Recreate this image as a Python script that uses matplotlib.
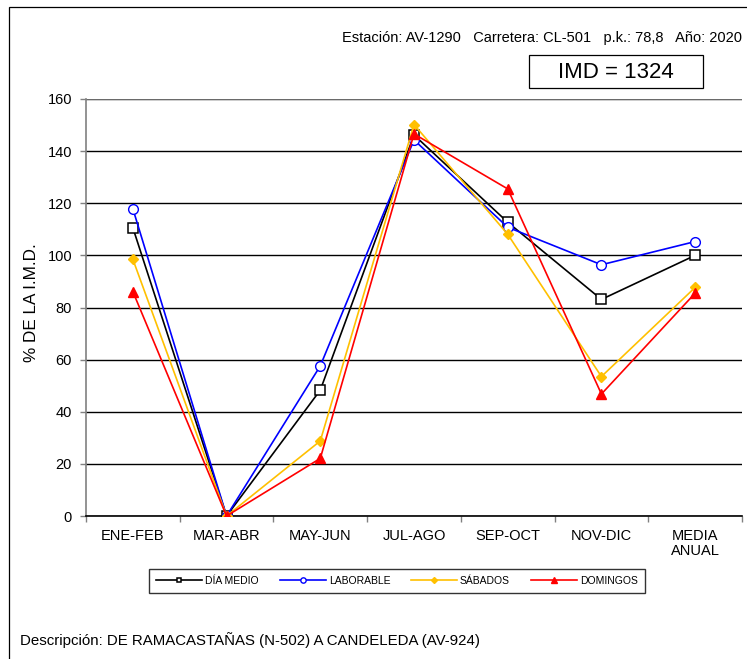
import matplotlib
matplotlib.use("Agg")
import matplotlib.pyplot as plt
from matplotlib.patches import Rectangle
import numpy as np

plt.rcParams['font.family'] = ['Liberation Sans', 'DejaVu Sans']

categories = ["ENE-FEB", "MAR-ABR", "MAY-JUN", "JUL-AGO", "SEP-OCT", "NOV-DIC", "MEDIA\nANUAL"]
dia_medio = [110.6, 0, 48.3, 146.2, 112.7, 83.1, 100.0]
laborable = [117.9, 0, 57.6, 144.3, 110.8, 96.4, 105.3]
sabados = [98.5, 0, 28.8, 150.2, 108.1, 53.5, 87.7]
domingos = [86.1, 0, 22.1, 146.6, 125.5, 46.8, 85.5]
series_names = ["DÍA MEDIO", "LABORABLE", "SÁBADOS", "DOMINGOS"]
yticks = [0, 20, 40, 60, 80, 100, 120, 140, 160]

W, H = 747, 659
fig = plt.figure(figsize=(W / 100, H / 100), dpi=100)

# outer frame
fig.patches.append(Rectangle((9 / W, -0.1), 1.2, 1 - 7 / H + 0.1, transform=fig.transFigure,
                             fill=False, edgecolor='black', linewidth=0.9))

ax = fig.add_axes([86 / W, 1 - 516 / H, (742 - 86) / W, 417 / H])
x = np.arange(len(categories))

ax.plot(x, dia_medio, color='black', lw=1.2, marker='s', ms=6.5, mfc='white', mec='black', mew=1.1,
        label=series_names[0], zorder=3)
ax.plot(x, laborable, color='#0000FF', lw=1.2, marker='o', ms=7, mfc='white', mec='#0000FF', mew=1.0,
        label=series_names[1], zorder=3)
ax.plot(x, sabados, color='#FFC000', lw=1.2, marker='D', ms=5.5, mfc='#FFC000', mec='#FFC000',
        label=series_names[2], zorder=3)
ax.plot(x, domingos, color='#FF0000', lw=1.2, marker='^', ms=7.5, mfc='#FF0000', mec='#FF0000',
        label=series_names[3], zorder=3)

ax.set_xlim(-0.5, len(categories) - 0.5)
ax.set_ylim(0, 160)
ax.set_yticks(yticks)
ax.set_yticklabels([str(v) for v in yticks], fontsize=10.5)
ax.set_xticks(x)
ax.set_xticklabels(categories, fontsize=10.5, linespacing=1.15)
ax.set_xticks(np.arange(-0.5, len(categories)), minor=True)
ax.tick_params(axis='x', which='major', length=0, pad=9)
ax.tick_params(axis='x', which='minor', length=4, width=1, color='#808080', direction='out')
ax.tick_params(axis='y', which='major', length=4, width=1, color='#808080', pad=6)
ax.grid(axis='y', color='black', linewidth=1.0)
ax.set_axisbelow(True)
for s in ['top', 'right']:
    ax.spines[s].set_visible(False)
ax.spines['left'].set_color('#808080')
ax.spines['left'].set_linewidth(1.2)
ax.spines['bottom'].set_color('black')
ax.spines['bottom'].set_linewidth(1.2)
ax.axhline(160, color='#808080', lw=1.2, zorder=1)

fig.text(32 / W, 1 - 303 / H, "% DE LA I.M.D.", rotation=90, fontsize=12.3, va='center', ha='center')

leg = fig.legend(loc='center', bbox_to_anchor=(397 / W, 1 - 581 / H), ncol=4, fontsize=7.5,
                 frameon=True, fancybox=False, edgecolor='black', handlelength=4.4,
                 handletextpad=0.3, columnspacing=2.0, markerscale=0.55, borderpad=0.7)
leg.get_frame().set_linewidth(1.0)

fig.text(342 / W, 1 - 38 / H, "Estación: AV-1290   Carretera: CL-501   p.k.: 78,8   Año: 2020",
         fontsize=10.55, va='center', ha='left')
fig.patches.append(Rectangle((529 / W, 1 - 88 / H), (703 - 529) / W, (88 - 55) / H,
                             transform=fig.transFigure, fill=False, edgecolor='black', linewidth=0.9))
fig.text(616 / W, 1 - 72 / H, "IMD = 1324", fontsize=16, va='center', ha='center')
fig.text(20 / W, 1 - 640 / H, "Descripción: DE RAMACASTAÑAS (N-502) A CANDELEDA (AV-924)",
         fontsize=10.8, va='center', ha='left')

fig.savefig("out.png", dpi=100)
